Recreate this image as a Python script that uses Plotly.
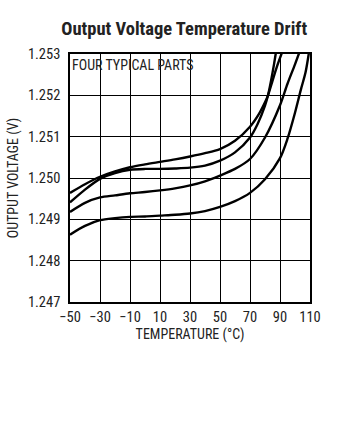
import plotly.graph_objects as go

# Temperature (°C) and output voltage (V), four parts
temp_1 = [-50, -40, -30, -20, -10, 0, 10, 20, 30, 40, 50, 60, 70, 76, 80, 82, 85, 88, 92]
volt_1 = [1.24964, 1.24985, 1.25003, 1.25016, 1.25026, 1.25033, 1.25039, 1.25045, 1.25052, 1.25060, 1.25070,
          1.25090, 1.25124, 1.25155, 1.25183, 1.25200, 1.25235, 1.25270, 1.25310]

temp_2 = [-50, -40, -30, -20, -10, 0, 10, 20, 30, 40, 50, 60, 70, 75, 80, 82, 84, 86, 88]
volt_2 = [1.24941, 1.24972, 1.24998, 1.25012, 1.25020, 1.25022, 1.25022, 1.25023, 1.25025, 1.25030, 1.25042,
          1.25062, 1.25098, 1.25130, 1.25175, 1.25200, 1.25235, 1.25275, 1.25320]

temp_3 = [-50, -40, -30, -20, -10, 0, 10, 20, 30, 40, 50, 60, 70, 80, 90, 95, 100, 104]
volt_3 = [1.24918, 1.24940, 1.24953, 1.24958, 1.24963, 1.24966, 1.24970, 1.24975, 1.24982, 1.24992, 1.25006,
          1.25022, 1.25046, 1.25098, 1.25176, 1.25228, 1.25275, 1.25315]

temp_4 = [-50, -40, -30, -20, -10, 0, 10, 20, 30, 40, 50, 60, 70, 80, 90, 95, 100, 104, 107, 110]
volt_4 = [1.24863, 1.24884, 1.24898, 1.24903, 1.24906, 1.24907, 1.24909, 1.24911, 1.24914, 1.24920, 1.24930,
          1.24944, 1.24964, 1.24997, 1.25048, 1.25095, 1.25158, 1.25215, 1.25255, 1.25320]

x_ticks = [-50, -30, -10, 10, 30, 50, 70, 90, 110]
x_tick_labels = ["\u221250", "\u221230", "\u221210", "10", "30", "50", "70", "90", "110"]
y_ticks = [1.247, 1.248, 1.249, 1.250, 1.251, 1.252, 1.253]
y_tick_labels = ["1.247", "1.248", "1.249", "1.250", "1.251", "1.252", "1.253"]

FONT = "Roboto Condensed, Arial Narrow, sans-serif"
TXT = "#222222"

fig = go.Figure()
for xs, ys in [(temp_1, volt_1), (temp_2, volt_2), (temp_3, volt_3), (temp_4, volt_4)]:
    fig.add_trace(go.Scatter(x=xs, y=ys, mode="lines",
                             line=dict(color="black", width=2.4, shape="spline", smoothing=0.8),
                             showlegend=False, hoverinfo="skip"))

axis_common = dict(showgrid=True, gridcolor="#000000", gridwidth=1, griddash="solid", zeroline=False,
                   showline=True, linecolor="#000000", linewidth=1.5, mirror=True,
                   ticks="outside", tickcolor="rgba(0,0,0,0)", tickfont=dict(size=14.5, color=TXT),
                   layer="above traces")

fig.update_layout(
    width=338, height=448,
    margin=dict(l=62, r=28, t=54, b=146),
    paper_bgcolor="white", plot_bgcolor="white",
    font=dict(family=FONT, color=TXT, size=12),
    title=dict(text="<b>Output Voltage Temperature Drift</b>", x=0.545, xanchor="center",
               y=0.937, yanchor="middle", font=dict(family=FONT, size=18.5, color=TXT)),
    xaxis=dict(range=[-50, 110], tickmode="array", tickvals=x_ticks, ticktext=x_tick_labels,
               ticklen=1, **axis_common,
               title=dict(text="TEMPERATURE (\u00b0C)", standoff=3, font=dict(size=14, color=TXT))),
    yaxis=dict(range=[1.247, 1.253], tickmode="array", tickvals=y_ticks, ticktext=y_tick_labels,
               ticklen=5, **axis_common,
               title=dict(text="OUTPUT VOLTAGE (V)", standoff=6, font=dict(size=14, color=TXT))),
    annotations=[dict(text="FOUR TYPICAL PARTS", xref="paper", yref="paper", x=0.0, y=0.995,
                      xanchor="left", yanchor="top", showarrow=False,
                      font=dict(family=FONT, size=14, color=TXT))],
)

fig.write_html("out.html")
